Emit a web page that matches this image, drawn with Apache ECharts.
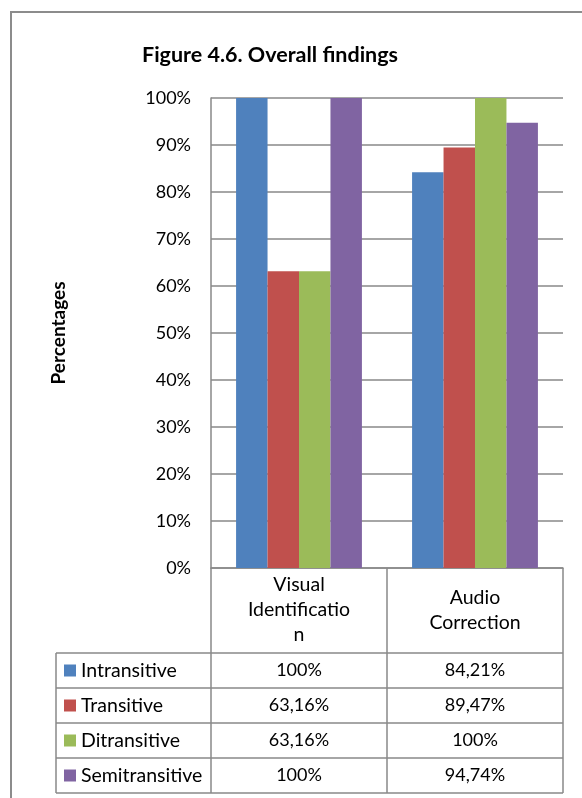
<!DOCTYPE html>
<html>
<head>
<meta charset="utf-8">
<script src="https://cdn.jsdelivr.net/npm/echarts@6/dist/echarts.min.js"></script>
<style>
html,body{margin:0;padding:0;background:#fff;}
#chart{width:582px;height:798px;}
</style>
</head>
<body>
<div id="chart"></div>
<script>
// ---- data ----
var categories = ['Visual Identification', 'Audio Correction'];
var categoryLabels = ['Visual\nIdentificatio\nn', 'Audio\nCorrection'];
var seriesNames = ['Intransitive', 'Transitive', 'Ditransitive', 'Semitransitive'];
var intransitive = [1.00, 0.8421];
var transitive = [0.6316, 0.8947];
var ditransitive = [0.6316, 1.00];
var semitransitive = [1.00, 0.9474];
var yTicks = [0, 0.1, 0.2, 0.3, 0.4, 0.5, 0.6, 0.7, 0.8, 0.9, 1.0];
var colors = ['#4F81BD', '#C0504D', '#9BBB59', '#8064A2'];
var seriesValues = [intransitive, transitive, ditransitive, semitransitive];

// ---- layout ----
var W = 582, H = 798;
var gridLeft = 211, gridRight = 563, gridTop = 98, gridBottom = 568;
var headerBottom = 653, rowH = 35, legendLeft = 56;
var lineColor = '#898989';
var font = 'Lato';

function fmt(v) {
  var p = Math.round(v * 10000) / 100;
  if (p === Math.round(p)) return p + '%';
  return p.toFixed(2).replace('.', ',') + '%';
}

var chart = echarts.init(document.getElementById('chart'), null, {renderer: 'canvas'});

var series = seriesNames.map(function (n, i) {
  return {
    name: n, type: 'bar', data: seriesValues[i],
    itemStyle: {color: colors[i]},
    barGap: '0%', barCategoryGap: '28.5%',
    emphasis: {disabled: true}
  };
});

var graphics = [];
// outer border
graphics.push({type: 'rect', shape: {x: 11, y: 12, width: 700, height: 900},
  style: {fill: null, stroke: '#8c8c8c', lineWidth: 2}, silent: true});

var catW = (gridRight - gridLeft) / categories.length;
var tableBottom = headerBottom + rowH * seriesNames.length;
// vertical lines of table
graphics.push({type: 'line', shape: {x1: gridLeft, y1: gridBottom, x2: gridLeft, y2: tableBottom},
  style: {stroke: lineColor, lineWidth: 1.5}, silent: true});
for (var c = 1; c <= categories.length; c++) {
  var x = gridLeft + catW * c;
  graphics.push({type: 'line', shape: {x1: x, y1: gridBottom, x2: x, y2: tableBottom},
    style: {stroke: lineColor, lineWidth: 1.5}, silent: true});
}
graphics.push({type: 'line', shape: {x1: legendLeft, y1: headerBottom, x2: legendLeft, y2: tableBottom},
  style: {stroke: lineColor, lineWidth: 1.5}, silent: true});
// horizontal lines
for (var r = 0; r <= seriesNames.length; r++) {
  var y = headerBottom + rowH * r;
  graphics.push({type: 'line', shape: {x1: legendLeft, y1: y, x2: gridRight, y2: y},
    style: {stroke: lineColor, lineWidth: 1.5}, silent: true});
}
// rows
seriesNames.forEach(function (n, i) {
  var cy = headerBottom + rowH * i + rowH / 2;
  graphics.push({type: 'rect', shape: {x: 64, y: cy - 6, width: 12, height: 12},
    style: {fill: colors[i]}, silent: true});
  graphics.push({type: 'text', x: 81, y: cy, silent: true,
    style: {text: n, font: '19.5px ' + font, fill: '#000', verticalAlign: 'middle', align: 'left'}});
  for (var c = 0; c < categories.length; c++) {
    graphics.push({type: 'text', x: gridLeft + catW * (c + 0.5), y: cy, silent: true,
      style: {text: fmt(seriesValues[i][c]), font: '18px ' + font, fill: '#000', verticalAlign: 'middle', align: 'center'}});
  }
});

chart.setOption({
  animation: false,
  backgroundColor: '#fff',
  textStyle: {fontFamily: font},
  title: {
    text: 'Figure 4.6. Overall findings', left: 265, top: 50, textAlign: 'center', textVerticalAlign: 'middle',
    textStyle: {fontFamily: font, fontWeight: 'bold', fontSize: 21.5, color: '#000'}
  },
  grid: {left: gridLeft, right: W - gridRight, top: gridTop, bottom: H - gridBottom, containLabel: false},
  xAxis: {
    type: 'category', data: categories,
    axisLine: {show: true, lineStyle: {color: lineColor, width: 1.5}},
    axisTick: {show: false},
    axisLabel: {
      formatter: function (v, i) { return categoryLabels[i]; },
      fontFamily: font, fontSize: 19.5, color: '#000', lineHeight: 25,
      verticalAlign: 'middle', margin: 42, interval: 0
    }
  },
  yAxis: {
    type: 'value', min: 0, max: 1, interval: 0.1,
    name: 'Percentages', nameLocation: 'middle', nameGap: 143, nameRotate: 90,
    nameTextStyle: {fontFamily: font, fontWeight: 'bold', fontSize: 19, color: '#000'},
    axisLine: {show: true, lineStyle: {color: lineColor, width: 1.5}},
    axisTick: {show: false},
    splitLine: {lineStyle: {color: lineColor, width: 1.5}},
    axisLabel: {
      formatter: function (v) { return Math.round(v * 100) + '%'; },
      fontFamily: font, fontSize: 18, color: '#000', margin: 20
    }
  },
  series: series,
  graphic: graphics
});
</script>
</body>
</html>
